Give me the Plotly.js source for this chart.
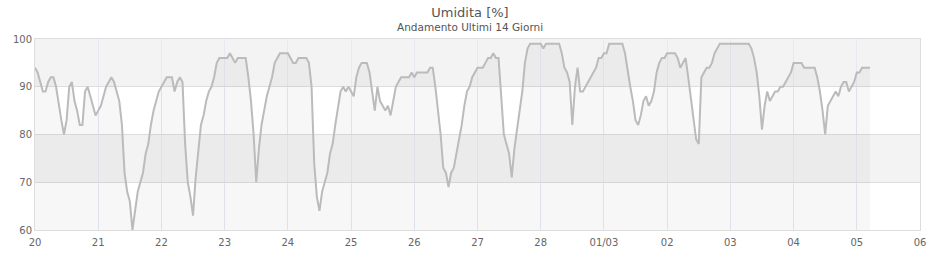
<!DOCTYPE html>
<html>
<head>
<meta charset="utf-8">
<script src="https://cdn.plot.ly/plotly-3.0.1.min.js"></script>
<style>html,body{margin:0;padding:0;background:#fff;}#chart{width:940px;height:260px;}</style>
</head>
<body>
<div id="chart"></div>
<script>
// Hourly humidity readings (%) starting 20 Feb 00:00
var startTime = '2025-02-20T00:00:00';
var humidity = [
  // 20
  94,93,91,89,89,91,92,92,90,86,83,80,83,90,91,87,85,82,82,89,90,88,86,84,
  // 21
  85,86,88,90,91,92,91,89,87,82,72,68,66,60,64,68,70,72,76,78,82,85,87,89,
  // 22
  90,91,92,92,92,89,91,92,91,78,70,67,63,71,77,82,84,87,89,90,92,95,96,96,
  // 23
  96,96,97,96,95,96,96,96,96,92,87,80,70,77,82,85,88,90,92,95,96,97,97,97,
  // 24
  97,96,95,95,96,96,96,96,95,90,74,67,64,68,70,72,76,78,82,86,89,90,89,90,
  // 25
  89,88,92,94,95,95,95,93,89,85,90,87,86,85,86,84,87,90,91,92,92,92,92,93,
  // 26
  92,93,93,93,93,93,94,94,90,85,80,73,72,69,72,73,76,79,82,86,89,90,92,93,
  // 27
  94,94,94,95,96,96,97,96,96,88,80,78,76,71,77,81,85,89,95,98,99,99,99,99,
  // 28
  99,98,99,99,99,99,99,99,97,94,93,91,82,90,94,89,89,90,91,92,93,94,96,96,
  // 01/03
  97,97,99,99,99,99,99,99,97,93,90,87,83,82,84,87,88,86,87,89,93,95,96,96,
  // 02
  97,97,97,97,96,94,95,96,92,88,84,79,78,92,93,94,94,95,97,98,99,99,99,99,
  // 03
  99,99,99,99,99,99,99,99,98,96,93,88,81,86,89,87,88,89,89,90,90,91,92,93,
  // 04
  95,95,95,95,94,94,94,94,94,92,89,85,80,86,87,88,89,88,90,91,91,89,90,91,
  // 05
  93,93,94,94,94,94
];
var tickDates = ['2025-02-20','2025-02-21','2025-02-22','2025-02-23','2025-02-24','2025-02-25','2025-02-26','2025-02-27','2025-02-28','2025-03-01','2025-03-02','2025-03-03','2025-03-04','2025-03-05','2025-03-06'];
var tickLabels = ['20','21','22','23','24','25','26','27','28','01/03','02','03','04','05','06'];
var yTicks = [60,70,80,90,100];
var bandRanges = [[90,100],[70,80]];

var t0 = new Date(startTime + 'Z').getTime();
var times = humidity.map(function(v,i){
  var d = new Date(t0 + i*3600000);
  return d.toISOString().slice(0,19).replace('T',' ');
});

var trace = {
  x: times, y: humidity, type: 'scatter', mode: 'lines',
  line: {color: '#bbbbbb', width: 2, shape: 'linear'},
  fill: 'tozeroy', fillcolor: 'rgba(0,0,0,0.03)',
  hoverinfo: 'x+y'
};

var shapes = bandRanges.map(function(b){
  return {type:'rect', xref:'paper', yref:'y', x0:0, x1:1, y0:b[0], y1:b[1],
          fillcolor:'#f3f3f3', line:{width:0}, layer:'below'};
});

var layout = {
  width: 940, height: 260,
  margin: {l:35, r:20, t:39, b:30, pad:0},
  paper_bgcolor: '#ffffff', plot_bgcolor: '#ffffff',
  font: {family: 'DejaVu Sans, Verdana, sans-serif', size: 10, color: '#666'},
  title: {text: 'Umidita [%]', x: 0.5, xref: 'container', xanchor: 'center',
          y: 1 - 12/260, yref: 'container', yanchor: 'middle',
          font: {size: 13, color: '#555'}},
  annotations: [{text: 'Andamento Ultimi 14 Giorni', xref: 'paper', yref: 'paper',
                 x: (470-35)/885, y: (230-27)/191, xanchor: 'center', yanchor: 'middle',
                 showarrow: false, font: {size: 10.5, color: '#555'}}],
  xaxis: {type: 'date', range: ['2025-02-20 00:00', '2025-03-06 00:00'],
          tickvals: tickDates, ticktext: tickLabels, ticks: '', ticklabelstandoff: 3,
          showgrid: true, gridcolor: '#e8e8f4', gridwidth: 1,
          showline: true, linecolor: '#dddddd', linewidth: 1, mirror: true,
          zeroline: false, fixedrange: true},
  yaxis: {range: [60,100], tickvals: yTicks, ticks: '',
          showgrid: true, gridcolor: '#dddddd', gridwidth: 1,
          showline: true, linecolor: '#dddddd', linewidth: 1, mirror: true,
          zeroline: false, fixedrange: true},
  shapes: shapes,
  showlegend: false
};

Plotly.newPlot('chart', [trace], layout, {displayModeBar: false, staticPlot: true});
</script>
</body>
</html>
